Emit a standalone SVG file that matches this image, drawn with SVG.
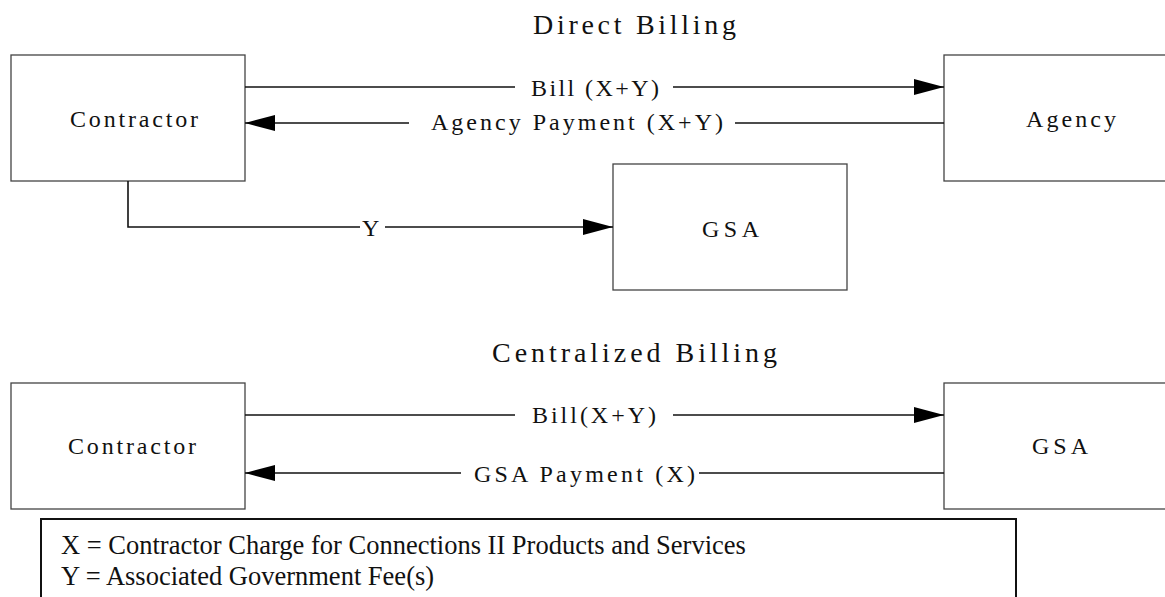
<svg xmlns="http://www.w3.org/2000/svg" width="1165" height="597" viewBox="0 0 1165 597">
<style>
.box{fill:#fff;stroke:#444;stroke-width:1.3}
.ln{fill:none;stroke:#111;stroke-width:1.6}
.t{font-family:"Liberation Serif","Times New Roman",serif;fill:#111}
.title{font-size:28px}
.lbl{font-size:24px}
.leg{font-size:26.5px}
</style>
<defs>
<marker id="ah" viewBox="0 0 30 16" refX="30" refY="8" markerWidth="30" markerHeight="16" markerUnits="userSpaceOnUse" orient="auto">
<path d="M0,0 L30,8 L0,16 Z" fill="#000"/>
</marker>
</defs>
<rect width="1165" height="597" fill="#fff"/>
<text class="t title" x="533" y="34" textLength="203" lengthAdjust="spacing">Direct Billing</text>
<text class="t title" x="492" y="362" textLength="285" lengthAdjust="spacing">Centralized Billing</text>
<g id="contractor1">
<rect class="box" x="11" y="55" width="234" height="126"/>
<text class="t lbl" x="70" y="127" textLength="128" lengthAdjust="spacing">Contractor</text>
</g>
<g id="agency">
<rect class="box" x="944" y="55" width="240" height="126"/>
<text class="t lbl" x="1026" y="127" textLength="90" lengthAdjust="spacing">Agency</text>
</g>
<g id="gsa1">
<rect class="box" x="613" y="164" width="234" height="126"/>
<text class="t lbl" x="702" y="237" textLength="57" lengthAdjust="spacing">GSA</text>
</g>
<g id="contractor2">
<rect class="box" x="11" y="383" width="234" height="126"/>
<text class="t lbl" x="68" y="454" textLength="128" lengthAdjust="spacing">Contractor</text>
</g>
<g id="gsa2">
<rect class="box" x="944" y="383" width="240" height="126"/>
<text class="t lbl" x="1032" y="454" textLength="56" lengthAdjust="spacing">GSA</text>
</g>
<g id="connectors">
<line class="ln" x1="245" y1="87" x2="515" y2="87"/>
<line class="ln" x1="673" y1="87" x2="944" y2="87" marker-end="url(#ah)"/>
<text class="t lbl" x="531" y="96" textLength="128" lengthAdjust="spacing">Bill (X+Y)</text>
<line class="ln" x1="944" y1="123" x2="735" y2="123"/>
<line class="ln" x1="409" y1="123" x2="245" y2="123" marker-end="url(#ah)"/>
<text class="t lbl" x="431" y="130" textLength="292" lengthAdjust="spacing">Agency Payment (X+Y)</text>
<path class="ln" d="M128,181 V227 H360"/>
<line class="ln" x1="385" y1="227" x2="613" y2="227" marker-end="url(#ah)"/>
<text class="t lbl" x="362" y="236">Y</text>
<line class="ln" x1="245" y1="415" x2="515" y2="415"/>
<line class="ln" x1="673" y1="415" x2="944" y2="415" marker-end="url(#ah)"/>
<text class="t lbl" x="532" y="423" textLength="124" lengthAdjust="spacing">Bill(X+Y)</text>
<line class="ln" x1="944" y1="473" x2="699" y2="473"/>
<line class="ln" x1="461" y1="473" x2="245" y2="473" marker-end="url(#ah)"/>
<text class="t lbl" x="474" y="482" textLength="221" lengthAdjust="spacing">GSA Payment (X)</text>
</g>
<g id="legend">
<rect x="41" y="519" width="975" height="100" fill="none" stroke="#111" stroke-width="2"/>
<text class="t leg" x="61" y="554">X = Contractor Charge for Connections II Products and Services</text>
<text class="t leg" x="61" y="585">Y = Associated Government Fee(s)</text>
</g>
</svg>
